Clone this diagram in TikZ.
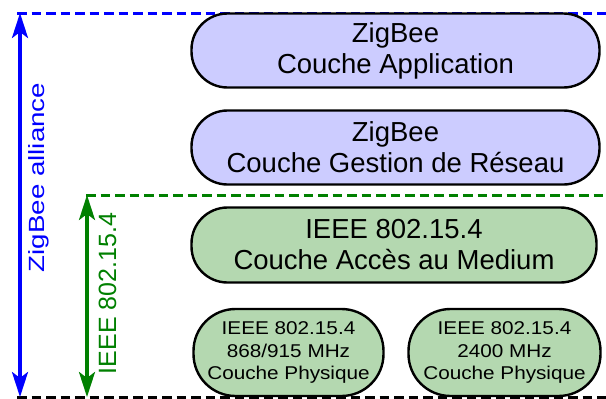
\documentclass[tikz,border=0pt]{standalone}
\usepackage{fontspec}
\setmainfont{Liberation Sans}
\usetikzlibrary{arrows.meta}
\definecolor{zbfill}{RGB}{204,204,255}
\definecolor{ieeefill}{RGB}{180,216,176}
\definecolor{ieeegreen}{RGB}{0,128,0}
\newcommand{\hstretch}[2]{\scalebox{#1}[1]{#2}}
\begin{document}
\begin{tikzpicture}[x=1pt,y=-1pt,
  layerbox/.style={draw=black, line width=2.4pt, inner sep=0pt, align=center, text=black},
  bigbox/.style={layerbox, minimum width=408pt, minimum height=74pt, rounded corners=36pt,
    font=\fontsize{27.5}{31}\selectfont},
  physbox/.style={layerbox, fill=ieeefill, minimum width=190pt, minimum height=87pt,
    rounded corners=42pt, font=\fontsize{18.5}{22.5}\selectfont},
  dashline/.style={line width=3pt, dash pattern=on 9.5pt off 5pt},
  spanarrow/.style={line width=3.4pt,
    {Stealth[length=25pt,width=16pt,inset=6pt]}-{Stealth[length=25pt,width=16pt,inset=6pt]}},
  sidelabel/.style={rotate=90, anchor=base, inner sep=0pt}
]
\useasboundingbox (0,0) rectangle (606,399);

% guide coordinates
\coordinate (blueL) at (17,13);
\coordinate (blueR) at (606,13);
\coordinate (greenL) at (86,195);
\coordinate (greenR) at (606,195);
\coordinate (baseL) at (17,397);
\coordinate (baseR) at (606,397);
\coordinate (zbtop) at (20,13);
\coordinate (zbbot) at (20,397);
\coordinate (ietop) at (87,195);
\coordinate (iebot) at (87,397);

% dashed levels
\draw[dashline, blue] (blueL) -- (blueR);
\draw[dashline, ieeegreen] (greenL) -- (greenR);
\draw[dashline, black] (baseL) -- (baseR);

% span arrows
\draw[spanarrow, blue] (zbtop) -- (zbbot);
\draw[spanarrow, ieeegreen] (ietop) -- (iebot);

% side labels
\node[sidelabel, text=blue, font=\fontsize{22}{26}\selectfont] (zblabel) at (45,177.5)
  {\hstretch{1.26}{ZigBee alliance}};
\node[sidelabel, text=ieeegreen, font=\fontsize{25}{30}\selectfont] (ielabel) at (116,293.5)
  {IEEE 802.15.4};

% layers
\node[bigbox, fill=zbfill] (app) at (395.5,50.5) {ZigBee\\Couche Application};
\node[bigbox, fill=zbfill] (nwk) at (395.5,147.5) {ZigBee\\Couche Gestion de Réseau};
\node[bigbox, fill=ieeefill, minimum width=405pt, minimum height=75pt] (mac) at (394,245)
  {IEEE 802.15.4\\Couche Accès au Medium};
\node[physbox] (phyA) at (288.5,352.5)
  {\hstretch{1.12}{IEEE 802.15.4}\\\hstretch{1.12}{868/915 MHz}\\\hstretch{1.12}{Couche Physique}};
\node[physbox, minimum width=192pt] (phyB) at (504.5,352.5)
  {\hstretch{1.12}{IEEE 802.15.4}\\\hstretch{1.12}{2400 MHz}\\\hstretch{1.12}{Couche Physique}};
\end{tikzpicture}
\end{document}
